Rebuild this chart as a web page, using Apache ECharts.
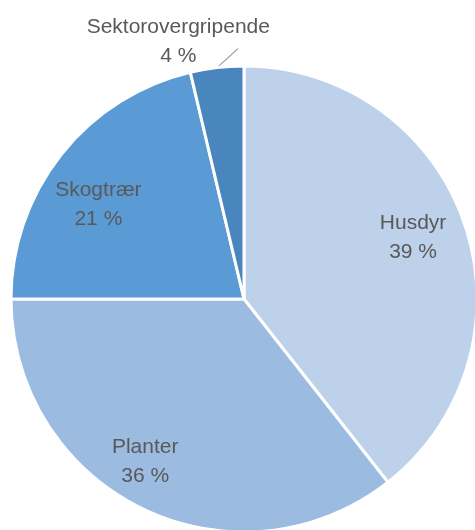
<!DOCTYPE html>
<html>
<head>
<meta charset="utf-8">
<script src="https://cdn.jsdelivr.net/npm/echarts@6/dist/echarts.min.js"></script>
<style>
  html, body { margin: 0; padding: 0; background: #fff; }
  #chart { width: 475px; height: 530px; }
</style>
</head>
<body>
<div id="chart"></div>
<script>
const categories = ['Husdyr', 'Planter', 'Skogtrær', 'Sektorovergripende'];
const shares = [39.4, 35.6, 21.3, 3.7];
const colors = ['#bdd1eb', '#9bbbe1', '#5b9bd5', '#4a86be'];

const chart = echarts.init(document.getElementById('chart'));

const pieData = categories.map((name, i) => ({
  name: name,
  value: shares[i],
  itemStyle: { color: colors[i] }
}));

const textStyle = {
  fontFamily: 'Liberation Sans',
  fontSize: 21,
  color: '#595959',
  lineHeight: 29
};

const fmt = p => p.name + '\n' + Math.round(p.value) + ' %';

// small nudges so the inside labels sit where the original put them
const insideNudge = [[-10, 1], [-16, -8], [3, 23], [0, 0]];

chart.setOption({
  animation: false,
  series: [
    {
      // the pie itself, only the small slice has an outside label
      type: 'pie',
      center: [244, 299],
      radius: [0, 233],
      startAngle: 90,
      clockwise: true,
      silent: true,
      itemStyle: { borderColor: '#fff', borderWidth: 3 },
      data: pieData.map((d, i) => Object.assign({}, d, {
        label: i === 3
          ? Object.assign({ show: true, position: 'outside', formatter: fmt }, textStyle)
          : { show: false },
        labelLine: i === 3
          ? { show: true, length: 6, length2: 0, lineStyle: { color: '#999', width: 1.2 } }
          : { show: false }
      })),
      labelLayout: function (params) {
        if (params.dataIndex === 3 && params.labelLinePoints) {
          const p0 = params.labelLinePoints[0];
          return {
            align: 'center',
            dx: -33,
            dy: -20,
            labelLinePoints: [p0, [p0[0] + 10, p0[1] - 9], [p0[0] + 21, p0[1] - 19]]
          };
        }
      }
    },
    {
      // transparent ring, used only to place the inside labels at ~80% radius
      type: 'pie',
      center: [244, 299],
      radius: [140, 233],
      startAngle: 90,
      clockwise: true,
      silent: true,
      itemStyle: { color: 'rgba(0,0,0,0)' },
      label: Object.assign({ show: true, position: 'inside', formatter: fmt }, textStyle),
      labelLine: { show: false },
      labelLayout: function (params) {
        const n = insideNudge[params.dataIndex];
        return { dx: n[0], dy: n[1] };
      },
      data: categories.map((name, i) => ({
        name: name,
        value: shares[i],
        label: { show: i !== 3 }
      }))
    }
  ]
});
</script>
</body>
</html>
